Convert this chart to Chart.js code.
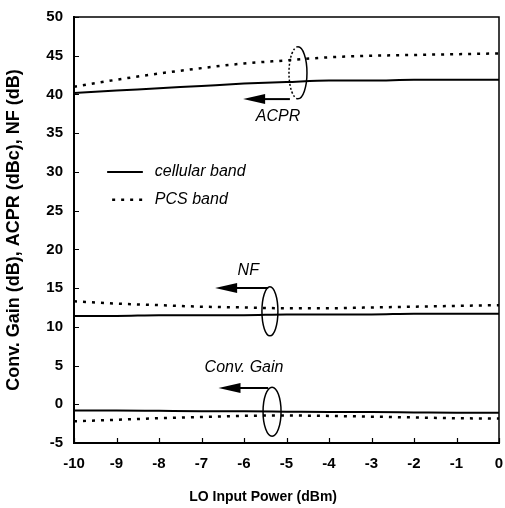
<!DOCTYPE html>
<html>
<head>
<meta charset="utf-8">
<script src="https://cdn.jsdelivr.net/npm/chart.js@4/dist/chart.umd.min.js"></script>
<style>
  html, body { margin: 0; padding: 0; background: #fff; }
  canvas { display: block; }
</style>
</head>
<body>
<canvas id="mixerChart" width="505" height="508"></canvas>
<script>
// LO input power (dBm)
const loPower = [-10, -9, -8, -7, -6, -5, -4, -3, -2, -1, 0];

// ACPR (dBc)
const acprCellular = [40.2, 40.5, 40.8, 41.1, 41.4, 41.6, 41.8, 41.8, 41.9, 41.9, 41.9];
const acprPcs = [41.0, 41.9, 42.7, 43.4, 44.0, 44.4, 44.8, 45.0, 45.1, 45.2, 45.3];

// NF (dB)
const nfCellular = [11.4, 11.4, 11.5, 11.5, 11.5, 11.6, 11.6, 11.6, 11.7, 11.7, 11.7];
const nfPcs = [13.3, 13.0, 12.8, 12.6, 12.5, 12.4, 12.4, 12.5, 12.6, 12.7, 12.8];

// Conversion gain (dB)
const gainCellular = [-0.8, -0.8, -0.85, -0.9, -0.9, -0.95, -1.0, -1.0, -1.05, -1.1, -1.1];
const gainPcs = [-2.2, -2.0, -1.8, -1.65, -1.5, -1.45, -1.5, -1.6, -1.7, -1.8, -1.85];

const FONT = '"Liberation Sans", Arial, Helvetica, sans-serif';

function toPoints(values) {
    return loPower.map((x, i) => ({ x: x, y: values[i] }));
}

function solid(values) {
    return {
        data: toPoints(values),
        borderColor: '#000',
        borderWidth: 2,
        pointRadius: 0,
        fill: false,
        cubicInterpolationMode: 'monotone'
    };
}

function dotted(values) {
    return {
        data: toPoints(values),
        borderColor: '#000',
        borderWidth: 2.5,
        borderDash: [3, 6],
        pointRadius: 0,
        fill: false,
        cubicInterpolationMode: 'monotone'
    };
}

// ellipse + arrow callouts, placed in data units
const callouts = [
    { text: 'ACPR', cx: -4.73, cy: 42.8, rx: 9, ry: 26, arrowY: 39.4, arrowFrom: -4.92, arrowTo: -6.02, tx: -5.2, ty: 37.1, dashedBack: true },
    { text: 'NF', cx: -5.39, cy: 12.0, rx: 8, ry: 24.5, arrowY: 15.0, arrowFrom: -5.43, arrowTo: -6.68, tx: -5.9, ty: 17.3 },
    { text: 'Conv. Gain', cx: -5.34, cy: -0.95, rx: 9, ry: 24.5, arrowY: 2.1, arrowFrom: -5.43, arrowTo: -6.6, tx: -6.0, ty: 4.7 }
];

const decor = {
    id: 'decor',
    afterDraw(chart) {
        const { ctx, chartArea: a, scales: { x, y } } = chart;
        ctx.save();
        ctx.strokeStyle = '#000';
        ctx.fillStyle = '#000';

        // top and right frame
        ctx.lineWidth = 1.5;
        ctx.beginPath();
        ctx.moveTo(a.left, a.top);
        ctx.lineTo(a.right, a.top);
        ctx.lineTo(a.right, a.bottom);
        ctx.stroke();

        // inward tick marks
        ctx.lineWidth = 1.2;
        ctx.beginPath();
        y.ticks.forEach(t => {
            const py = Math.round(y.getPixelForValue(t.value)) + 0.5;
            ctx.moveTo(a.left, py);
            ctx.lineTo(a.left + 5, py);
        });
        x.ticks.forEach(t => {
            const px = Math.round(x.getPixelForValue(t.value)) + 0.5;
            ctx.moveTo(px, a.bottom);
            ctx.lineTo(px, a.bottom - 5);
        });
        ctx.stroke();

        // callouts
        callouts.forEach(c => {
            const cx = x.getPixelForValue(c.cx);
            const cy = y.getPixelForValue(c.cy);
            ctx.lineWidth = 1.5;
            if (c.dashedBack) {
                ctx.setLineDash([2, 2]);
                ctx.beginPath();
                ctx.ellipse(cx, cy, c.rx, c.ry, 0, Math.PI / 2, Math.PI * 1.5);
                ctx.stroke();
                ctx.setLineDash([]);
                ctx.beginPath();
                ctx.ellipse(cx, cy, c.rx, c.ry, 0, -Math.PI / 2, Math.PI / 2);
                ctx.stroke();
            } else {
                ctx.beginPath();
                ctx.ellipse(cx, cy, c.rx, c.ry, 0, 0, Math.PI * 2);
                ctx.stroke();
            }
            const ay = y.getPixelForValue(c.arrowY);
            const x0 = x.getPixelForValue(c.arrowFrom);
            const x1 = x.getPixelForValue(c.arrowTo);
            ctx.lineWidth = 2;
            ctx.beginPath();
            ctx.moveTo(x0, ay);
            ctx.lineTo(x1 + 18, ay);
            ctx.stroke();
            ctx.beginPath();
            ctx.moveTo(x1, ay);
            ctx.lineTo(x1 + 22, ay - 5);
            ctx.lineTo(x1 + 22, ay + 5);
            ctx.closePath();
            ctx.fill();

            ctx.font = 'italic 16px ' + FONT;
            ctx.textAlign = 'center';
            ctx.textBaseline = 'middle';
            ctx.fillText(c.text, x.getPixelForValue(c.tx), y.getPixelForValue(c.ty));
        });

        // legend inside the plot
        const lx0 = x.getPixelForValue(-9.22);
        const lx1 = x.getPixelForValue(-8.38);
        const ly1 = y.getPixelForValue(30.0);
        const ly2 = y.getPixelForValue(26.4);
        ctx.lineWidth = 2;
        ctx.beginPath();
        ctx.moveTo(lx0, ly1);
        ctx.lineTo(lx1, ly1);
        ctx.stroke();
        ctx.lineWidth = 2.5;
        ctx.setLineDash([3, 6]);
        ctx.beginPath();
        ctx.moveTo(lx0 + 5, ly2);
        ctx.lineTo(lx1, ly2);
        ctx.stroke();
        ctx.setLineDash([]);
        ctx.font = 'italic 16px ' + FONT;
        ctx.textAlign = 'left';
        ctx.textBaseline = 'middle';
        ctx.fillText('cellular band', lx1 + 12, ly1);
        ctx.fillText('PCS band', lx1 + 12, ly2);

        // x axis title
        ctx.font = 'bold 14px ' + FONT;
        ctx.textAlign = 'center';
        ctx.fillText('LO Input Power (dBm)', a.left + (a.right - a.left) * 0.445, 497);

        ctx.restore();
    }
};

const ctxMixer = document.getElementById('mixerChart').getContext('2d');
new Chart(ctxMixer, {
    type: 'line',
    data: {
        datasets: [
            solid(acprCellular), dotted(acprPcs),
            solid(nfCellular), dotted(nfPcs),
            solid(gainCellular), dotted(gainPcs)
        ]
    },
    options: {
        responsive: false,
        animation: false,
        devicePixelRatio: 1,
        layout: { padding: { top: 17, right: 6, left: 0, bottom: 0 } },
        plugins: { legend: { display: false }, tooltip: { enabled: false } },
        scales: {
            x: {
                type: 'linear',
                min: -10,
                max: 0,
                afterFit(scale) {
                    scale.height = 65;
                    scale.paddingLeft = 0;
                    scale.paddingRight = 0;
                },
                grid: { display: false, drawTicks: false },
                border: { display: true, color: '#000', width: 2 },
                ticks: {
                    stepSize: 1,
                    padding: 12,
                    color: '#000',
                    font: { family: FONT, size: 15, weight: 'bold' },
                    maxRotation: 0
                }
            },
            y: {
                min: -5,
                max: 50,
                afterFit(scale) {
                    scale.width = 74;
                    scale.paddingTop = 0;
                    scale.paddingBottom = 0;
                },
                grid: { display: false, drawTicks: false },
                border: { display: true, color: '#000', width: 2 },
                ticks: {
                    stepSize: 5,
                    padding: 11,
                    color: '#000',
                    font: { family: FONT, size: 15, weight: 'bold' }
                },
                title: {
                    display: true,
                    text: 'Conv. Gain (dB), ACPR (dBc), NF (dB)',
                    color: '#000',
                    font: { family: FONT, size: 18, weight: 'bold' },
                    padding: { top: 3, bottom: 0 }
                }
            }
        }
    },
    plugins: [decor]
});
</script>
</body>
</html>
